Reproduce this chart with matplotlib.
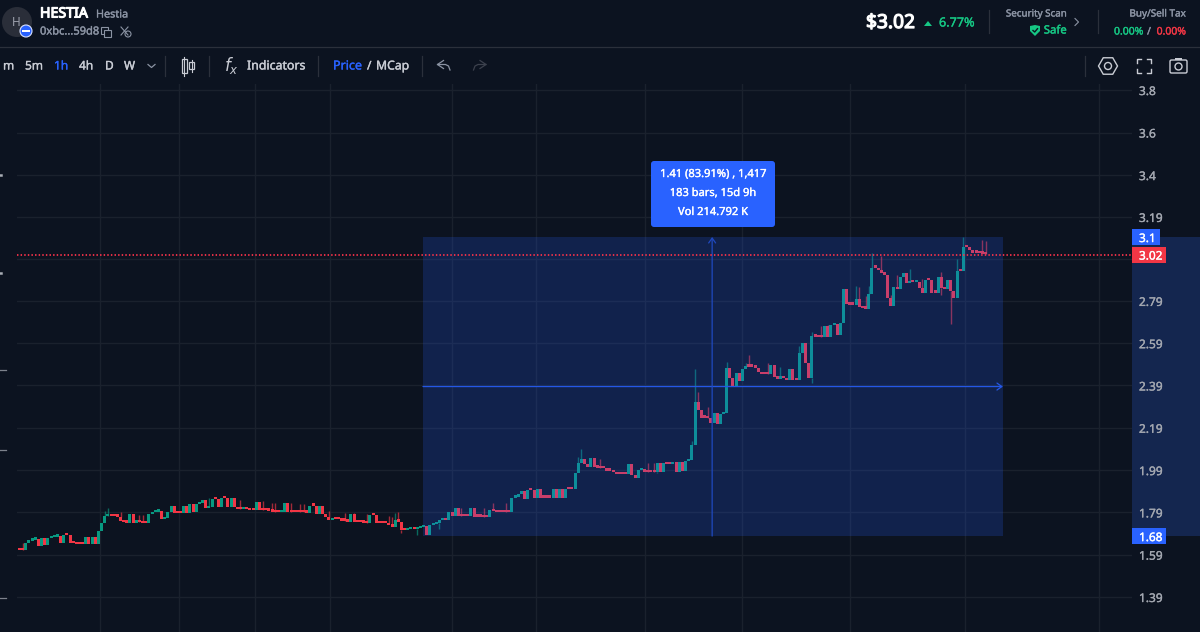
import matplotlib
matplotlib.use('Agg')
import matplotlib.pyplot as plt
import matplotlib.patheffects as pe
from matplotlib.patches import Circle, FancyBboxPatch, Polygon, Rectangle, RegularPolygon

closes = [
    1.611, 1.611, 1.647, 1.656, 1.661, 1.663, 1.631, 1.667, 1.636, 1.667,
    1.672, 1.675, 1.678, 1.644, 1.682, 1.682, 1.644, 1.644, 1.641, 1.641,
    1.641, 1.672, 1.641, 1.675, 1.641, 1.702, 1.738, 1.773, 1.775, 1.773,
    1.771, 1.770, 1.751, 1.743, 1.741, 1.782, 1.741, 1.743, 1.743, 1.738,
    1.738, 1.782, 1.790, 1.793, 1.798, 1.759, 1.762, 1.790, 1.820, 1.786,
    1.786, 1.786, 1.820, 1.789, 1.830, 1.790, 1.830, 1.833, 1.849, 1.809,
    1.814, 1.853, 1.853, 1.814, 1.857, 1.857, 1.817, 1.857, 1.817, 1.805,
    1.805, 1.806, 1.806, 1.801, 1.801, 1.841, 1.801, 1.801, 1.801, 1.798,
    1.793, 1.792, 1.792, 1.793, 1.833, 1.792, 1.792, 1.792, 1.792, 1.790,
    1.790, 1.789, 1.822, 1.822, 1.782, 1.822, 1.782, 1.770, 1.754, 1.757,
    1.757, 1.757, 1.751, 1.751, 1.746, 1.782, 1.743, 1.743, 1.743, 1.741,
    1.738, 1.778, 1.778, 1.738, 1.738, 1.738, 1.738, 1.730, 1.723, 1.754,
    1.746, 1.707, 1.707, 1.710, 1.712, 1.712, 1.715, 1.719, 1.726, 1.683,
    1.730, 1.735, 1.741, 1.754, 1.757, 1.754, 1.790, 1.775, 1.809, 1.775,
    1.773, 1.773, 1.773, 1.809, 1.770, 1.770, 1.770, 1.767, 1.767, 1.801,
    1.797, 1.792, 1.790, 1.790, 1.790, 1.790, 1.860, 1.864, 1.877, 1.893,
    1.853, 1.896, 1.896, 1.860, 1.901, 1.860, 1.860, 1.860, 1.860, 1.901,
    1.860, 1.901, 1.860, 1.901, 1.901, 1.901, 1.978, 2.022, 2.041, 2.019,
    2.006, 2.049, 2.003, 2.002, 1.998, 1.998, 1.987, 1.987, 1.980, 1.970,
    1.970, 1.970, 1.970, 2.019, 1.967, 1.951, 1.991, 1.994, 1.980, 1.980,
    1.980, 1.980, 2.022, 1.980, 2.022, 2.019, 2.019, 2.027, 1.983, 2.030,
    1.987, 2.033, 2.038, 2.109, 2.314, 2.274, 2.238, 2.238, 2.235, 2.214,
    2.262, 2.210, 2.254, 2.262, 2.471, 2.424, 2.388, 2.448, 2.413, 2.466,
    2.482, 2.479, 2.479, 2.474, 2.454, 2.444, 2.443, 2.443, 2.489, 2.432,
    2.422, 2.424, 2.424, 2.416, 2.468, 2.416, 2.416, 2.542, 2.593, 2.495,
    2.427, 2.624, 2.621, 2.618, 2.618, 2.671, 2.621, 2.676, 2.679, 2.629,
    2.684, 2.845, 2.774, 2.772, 2.772, 2.799, 2.763, 2.755, 2.753, 2.823,
    2.947, 2.947, 2.936, 2.923, 2.914, 2.802, 2.766, 2.857, 2.846, 2.905,
    2.920, 2.873, 2.881, 2.878, 2.881, 2.853, 2.829, 2.889, 2.889, 2.829,
    2.829, 2.901, 2.849, 2.846, 2.889, 2.838, 2.802, 2.930, 2.930, 3.043,
    3.043, 3.031, 3.018, 3.018, 3.017, 3.013, 3.012,
]
opens = [closes[0]] + closes[:-1]

high_bars = [
    1, 27, 28, 32, 38, 39, 60, 70, 77, 80, 81, 86, 89, 90, 98, 103, 106, 110, 117, 118,
    119, 120, 140, 147, 150, 154, 165, 177, 178, 184, 199, 201, 213, 214, 215, 218, 224, 230,
    231, 237, 241, 247, 251, 254, 256, 265, 266, 268, 269, 270, 273, 276, 278, 282, 286, 292,
    297, 299, 305, 306,
]
high_vals = [
    1.647, 1.797, 1.812, 1.793, 1.778, 1.778, 1.857, 1.849, 1.844, 1.833, 1.833, 1.833, 1.830, 1.830, 1.798, 1.786, 1.786, 1.781, 1.773, 1.767,
    1.786, 1.790, 1.812, 1.809, 1.833, 1.833, 1.901, 2.054, 2.090, 2.043, 2.022, 2.022, 2.128, 2.468, 2.361, 2.290, 2.500, 2.498,
    2.534, 2.498, 2.476, 2.578, 2.644, 2.671, 2.676, 2.862, 2.854, 2.813, 2.860, 3.018, 3.002, 2.818, 2.912, 2.939, 2.894, 2.925,
    2.987, 3.094, 3.078, 3.073,
]
low_bars = [121, 126, 133, 202, 251, 292, 295]
low_vals = [1.694, 1.683, 1.710, 1.975, 2.403, 2.818, 2.681]

tick_vals = [1.39, 1.59, 1.79, 1.99, 2.19, 2.39, 2.59, 2.79, 2.99, 3.187, 3.385, 3.586, 3.787]
tick_labels = ['1.39', '1.59', '1.79', '1.99', '2.19', '2.39', '2.59', '2.79', '', '3.19', '3.4', '3.6', '3.8']
grid_bars = [25.5, 50.5, 74.5, 98.5, 137, 163.5, 198, 229, 263, 299.5, 342]

measure_start = 127.8
measure_end = 311.5
measure_mid_bar = 219.4
measure_low = 1.678
measure_high = 3.092
price_now = 3.009

BG = '#0c1320'
GRID = '#1a212d'
UP = '#089981'
DOWN = '#f23645'
BLUE = '#2962ff'
TEXT = '#c9ccd4'
MUTED = '#8b93a3'
LINE = '#2b303b'
GREEN = '#16c784'

plt.rcParams['font.family'] = ['Noto Sans', 'DejaVu Sans']


def label(ui, x, y, s, color, size, stroke=0.25, **kw):
    # the screenshot text is heavier than the plain font, a thin stroke gets close
    t = ui.text(x, y, s, color=color, fontsize=size, va='center', **kw)
    t.set_path_effects([pe.withStroke(linewidth=stroke, foreground=color)])
    return t


def draw_candles(ax) -> None:
    for i, (o, c) in enumerate(zip(opens, closes)):
        color = UP if c > o else DOWN
        height = max(abs(c - o), 0.011)
        ax.bar(i, height, bottom=min(o, c), width=0.95, color=color, linewidth=0, zorder=2)
    for i, h in zip(high_bars, high_vals):
        color = UP if closes[i] > opens[i] else DOWN
        ax.vlines(i, max(opens[i], closes[i]), h, color=color, lw=1, alpha=0.65, zorder=2)
    for i, l in zip(low_bars, low_vals):
        color = UP if closes[i] > opens[i] else DOWN
        ax.vlines(i, l, min(opens[i], closes[i]), color=color, lw=1, alpha=0.65, zorder=2)


def draw_measure(ax) -> None:
    ax.add_patch(Rectangle((measure_start, measure_low), measure_end - measure_start, measure_high - measure_low,
                           facecolor=BLUE, alpha=0.2, linewidth=0, zorder=3))
    mid = (measure_low + measure_high) / 2
    arrow = dict(arrowstyle='->,head_length=0.35,head_width=0.25', lw=0.9, shrinkA=0, shrinkB=0)
    ax.annotate('', xy=(measure_end, mid), xytext=(measure_start, mid), arrowprops=dict(arrow, color='#2457e6'), zorder=4)
    ax.annotate('', xy=(measure_mid_bar, measure_high), xytext=(measure_mid_bar, measure_low),
                arrowprops=dict(arrow, color='#1f49c0'), zorder=4)

    # band and tags on the price axis
    tr = ax.get_yaxis_transform()
    axis_w = ax.get_window_extent().width
    ax.add_patch(Rectangle((1, measure_low), 68 / axis_w, measure_high - measure_low, transform=tr,
                           facecolor='#14264f', linewidth=0, clip_on=False, zorder=0.3))
    ax.axhline(price_now, color='#f5324a', lw=1.3, linestyle=(0, (0.8, 1.2)), zorder=4)
    tags = [(measure_high, '3.1', BLUE, 28), (price_now, '3.02', DOWN, 34), (measure_low, '1.68', BLUE, 34)]
    for price, text, color, width in tags:
        y = ax.transData.transform((0, price))[1]
        y0 = ax.transAxes.inverted().transform((0, y - 8))[1]
        h = 16 / ax.get_window_extent().height
        ax.add_patch(Rectangle((1, y0), width / axis_w, h, transform=ax.transAxes, facecolor=color,
                               linewidth=0, clip_on=False, zorder=5))
        t = ax.text(1 + 7 / axis_w, price, text, transform=tr, color='white', fontsize=8.5, va='center_baseline',
                    clip_on=False, zorder=6)
        t.set_path_effects([pe.withStroke(linewidth=0.25, foreground='white')])


def draw_header(ui) -> None:
    ui.add_patch(Rectangle((0, 0), 1200, 84, facecolor=BG, linewidth=0))
    ui.plot([0, 1200], [47, 47], color=LINE, lw=0.9)

    ui.add_patch(Circle((17, 22), 15, facecolor='#2a2e39', linewidth=0))
    ui.text(16.5, 22.5, 'H', color='#9a9eaa', fontsize=8.5, ha='center', va='center')
    ui.add_patch(Circle((26, 31), 6, facecolor=BLUE, edgecolor='#d8e2ff', lw=0.8))
    ui.add_patch(Rectangle((22, 30.3), 8, 1.6, facecolor='white', linewidth=0))
    label(ui, 40, 14, 'HESTIA', 'white', 10.2, stroke=0.8)
    label(ui, 96, 15, 'Hestia', MUTED, 7.8)
    label(ui, 40, 32, '0xbc...59d8', MUTED, 8)
    ui.add_patch(Rectangle((101, 27), 6.5, 7, fill=False, edgecolor=MUTED, lw=0.8))
    ui.add_patch(Rectangle((104, 30), 7, 7, facecolor=BG, edgecolor=MUTED, lw=0.8))
    ui.plot([121, 128], [27, 35], color=MUTED, lw=0.8)
    ui.plot([128, 121], [27, 35], color=MUTED, lw=0.8)
    ui.add_patch(Circle((128, 34), 3, facecolor=BG, edgecolor=MUTED, lw=0.8))

    label(ui, 866, 23, '$3.02', 'white', 13.8, stroke=0.9, parse_math=False)
    ui.add_patch(Polygon([(924, 26), (932, 26), (928, 21)], facecolor=GREEN, linewidth=0))
    label(ui, 939, 23, '6.77%', GREEN, 9.1)
    for x in [989, 1098]:
        ui.plot([x, x], [10, 33], color=LINE, lw=0.9)
    label(ui, 1067, 14, 'Security Scan', MUTED, 7.05, ha='right')
    ui.add_patch(Polygon([(1030, 26), (1035, 25), (1040, 26), (1040, 31), (1035, 36), (1030, 31)],
                         facecolor=GREEN, linewidth=0))
    ui.plot([1033, 1034.7, 1037.5], [30.5, 32, 28.7], color=BG, lw=1)
    label(ui, 1067, 31, 'Safe', GREEN, 8.2, ha='right')
    ui.plot([1075, 1078.5, 1075], [18.5, 22, 25.5], color=MUTED, lw=0.8)
    label(ui, 1186, 14, 'Buy/Sell Tax', MUTED, 7.15, ha='right')
    label(ui, 1114, 32, '0.00%', GREEN, 7.5)
    label(ui, 1149, 32, '/', MUTED, 7.5, ha='center')
    label(ui, 1186, 32, '0.00%', DOWN, 7.5, ha='right')


def draw_toolbar(ui) -> None:
    for x, text, color in [(3, 'm', TEXT), (25, '5m', TEXT), (54, '1h', BLUE), (79, '4h', TEXT),
                           (105, 'D', TEXT), (124, 'W', TEXT)]:
        label(ui, x, 66, text, color, 8.6)
    ui.plot([148, 151.5, 155], [64.5, 67.5, 64.5], color=MUTED, lw=0.9)
    for x in [165, 209, 318, 422, 1085]:
        ui.plot([x, x], [56, 76], color=LINE, lw=0.9)

    # candle icon
    ui.plot([184, 184], [57, 76], color=TEXT, lw=0.8)
    ui.add_patch(Rectangle((181.5, 59), 5, 14, facecolor=BG, edgecolor=TEXT, lw=0.9))
    ui.plot([191.5, 191.5], [60, 72], color=TEXT, lw=0.8)
    ui.add_patch(Rectangle((189, 62), 5, 7, facecolor=BG, edgecolor=TEXT, lw=0.9))

    ui.text(231, 66, '$f_x$', color=TEXT, fontsize=12, ha='center', va='center')
    label(ui, 247, 66, 'Indicators', TEXT, 8.9)
    label(ui, 333, 66, 'Price', BLUE, 9)
    label(ui, 367, 66, '/', TEXT, 8.6)
    label(ui, 376, 66, 'MCap', TEXT, 8.8)

    for tip, sign, color in [(437.5, 1, MUTED), (486, -1, '#3c414d')]:
        ui.plot([tip + sign * 6, tip, tip + sign * 6], [60.5, 64.5, 68.5], color=color, lw=0.9)
        ui.plot([tip, tip + sign * 8, tip + sign * 11, tip + sign * 12.5], [64.5, 64.5, 66, 70], color=color, lw=0.9)

    ui.add_patch(RegularPolygon((1108, 66), 6, radius=9.5, orientation=0.5236, fill=False, edgecolor=TEXT, lw=1))
    ui.add_patch(Circle((1108, 66), 3.5, fill=False, edgecolor=TEXT, lw=1))
    for sx, sy in [(-1, -1), (1, -1), (-1, 1), (1, 1)]:
        ui.plot([1144 + sx * 7, 1144 + sx * 7, 1144 + sx * 3], [66 + sy * 3, 66 + sy * 7, 66 + sy * 7], color=TEXT, lw=1)
    ui.add_patch(FancyBboxPatch((1170, 60), 17, 13, boxstyle='round,pad=0,rounding_size=1.5', fill=False, edgecolor=TEXT, lw=1))
    ui.add_patch(Rectangle((1175, 58), 7, 2, facecolor=TEXT, linewidth=0))
    ui.add_patch(Circle((1178.5, 66.5), 3.5, fill=False, edgecolor=TEXT, lw=1))


def draw_tooltip(ui) -> None:
    ui.add_patch(FancyBboxPatch((651, 161), 124, 66, boxstyle='round,pad=0,rounding_size=3', facecolor=BLUE, linewidth=0))
    for y, line in [(174.5, '1.41 (83.91%) , 1,417'), (193.5, '183 bars, 15d 9h'), (212.5, 'Vol 214.792 K')]:
        label(ui, 713, y, line, 'white', 8, ha='center')


def draw_left_stubs(ui) -> None:
    # what is left of a second axis cut off by the screenshot
    for y in [370, 450, 598]:
        ui.plot([0, 6], [y, y], color='#7d828c', lw=0.9)
    for y in [174.5, 273]:
        ui.plot([0, 1.2], [y, y], color='#a9adb5', lw=1.8)


def generate_plot() -> None:
    fig = plt.figure(figsize=(12, 6.32), dpi=100, facecolor=BG)
    ax = fig.add_axes([17 / 1200, 0, 1115 / 1200, 548 / 632], facecolor=BG)
    ax.set_xlim((17 - 19.5) / 3.157, (1132 - 19.5) / 3.157)
    ax.set_ylim(1.2245, 3.8155)
    for spine in ax.spines.values():
        spine.set_visible(False)
    ax.yaxis.tick_right()
    ax.set_yticks(tick_vals, tick_labels)
    ax.set_xticks(grid_bars, [])
    ax.tick_params(axis='y', length=0, pad=5, labelcolor='#a3a7b0', labelsize=8.6)
    ax.tick_params(axis='x', length=0)
    for t in ax.get_yticklabels():
        t.set_path_effects([pe.withStroke(linewidth=0.25, foreground='#a3a7b0')])
    ax.grid(True, color=GRID, lw=1)
    ax.set_axisbelow(True)

    draw_candles(ax)
    draw_measure(ax)

    ui = fig.add_axes([0, 0, 1, 1], zorder=5)
    ui.set_xlim(0, 1200)
    ui.set_ylim(632, 0)
    ui.axis('off')
    draw_header(ui)
    draw_toolbar(ui)
    draw_tooltip(ui)
    draw_left_stubs(ui)

    fig.savefig('out.png', dpi=100, facecolor=BG)
    plt.close(fig)


if __name__ == '__main__':
    generate_plot()
